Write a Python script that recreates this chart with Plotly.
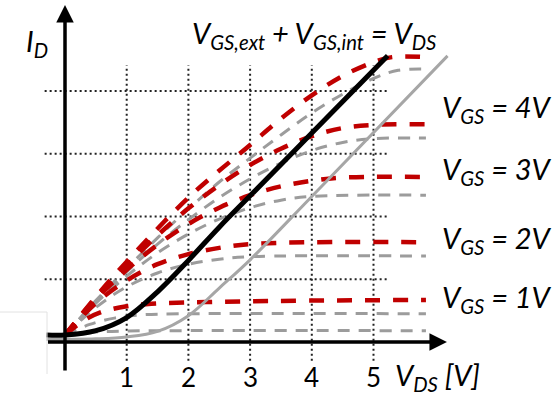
import plotly.graph_objects as go

# ---------------- data ----------------
tick_values = [1, 2, 3, 4, 5]
tick_labels = ["1", "2", "3", "4", "5"]
grid_levels = [1, 2, 3, 4]

# black boundary curve  V_GS,ext + V_GS,int = V_DS
vds_black = [-0.3, 0.0, 0.5, 1.0, 1.5, 2.0, 2.5, 3.0, 4.0, 5.23]
id_black = [0.11, 0.11, 0.18, 0.39, 0.80, 1.30, 1.83, 2.33, 3.33, 4.56]

# grey solid boundary curve
vds_grey = [-0.3, 0.5, 1.0, 1.5, 2.0, 2.5, 3.0, 4.0, 6.2]
id_grey = [0.04, 0.05, 0.08, 0.17, 0.42, 0.86, 1.31, 2.32, 4.56]

# red dashed output curves (V_GS = 1..5 V)
red_vds = [
    [0, 0.3, 0.6, 1.0, 1.4, 2.5, 4.0, 5.85],
    [0, 0.5, 1.0, 1.5, 2.0, 2.5, 3.0, 4.0, 5.85],
    [0, 0.5, 1.0, 1.5, 2.0, 2.5, 3.0, 3.5, 4.0, 4.5, 5.85],
    [0, 0.5, 1.0, 1.5, 2.0, 2.5, 3.0, 3.5, 4.0, 4.5, 5.0, 5.85],
    [0, 0.5, 1.0, 2.0, 3.0, 3.5, 4.0, 4.5, 5.0, 5.3, 5.85],
]
red_id = [
    [0.11, 0.34, 0.48, 0.57, 0.61, 0.64, 0.66, 0.67],
    [0.11, 0.62, 0.98, 1.24, 1.40, 1.50, 1.56, 1.59, 1.59],
    [0.11, 0.68, 1.15, 1.55, 1.88, 2.14, 2.34, 2.48, 2.57, 2.62, 2.63],
    [0.11, 0.70, 1.22, 1.70, 2.13, 2.50, 2.82, 3.08, 3.28, 3.41, 3.46, 3.47],
    [0.11, 0.72, 1.28, 2.30, 3.14, 3.56, 3.93, 4.24, 4.46, 4.54, 4.54],
]

# grey dashed output curves
grey_vds = [
    [0, 0.5, 1.0, 5.85],
    [0, 0.4, 0.8, 1.2, 2.0, 5.85],
    [0, 0.5, 1.0, 1.5, 2.0, 2.5, 3.0, 5.85],
    [0, 0.5, 1.0, 1.5, 2.0, 2.5, 3.0, 3.5, 4.0, 5.85],
    [0, 0.5, 1.0, 1.5, 2.0, 2.5, 3.0, 3.5, 4.0, 4.5, 5.0, 5.85],
    [0, 0.5, 1.0, 1.5, 2.0, 2.5, 3.0, 3.5, 4.0, 4.5, 5.0, 5.4, 5.85],
]
grey_id = [
    [0.11, 0.16, 0.175, 0.18],
    [0.11, 0.28, 0.38, 0.43, 0.45, 0.45],
    [0.11, 0.55, 0.88, 1.10, 1.24, 1.32, 1.36, 1.37],
    [0.11, 0.62, 1.05, 1.42, 1.72, 1.96, 2.14, 2.26, 2.32, 2.34],
    [0.11, 0.64, 1.12, 1.56, 1.95, 2.30, 2.60, 2.85, 3.05, 3.18, 3.24, 3.25],
    [0.11, 0.66, 1.17, 1.66, 2.12, 2.55, 2.93, 3.30, 3.65, 3.95, 4.20, 4.33, 4.35],
]

vgs_labels = ["V<sub>GS</sub> = 4V", "V<sub>GS</sub> = 3V",
              "V<sub>GS</sub> = 2V", "V<sub>GS</sub> = 1V"]
vgs_label_y = [3.72, 2.74, 1.63, 0.70]

RED = "#C00000"
GREYD = "#9C9C9C"
GREYL = "#A6A6A6"
FONT = "Lato"

fig = go.Figure()

for xs, ys in zip(grey_vds, grey_id):
    fig.add_trace(go.Scatter(x=xs, y=ys, mode="lines",
                             line=dict(color=GREYD, width=3, dash="12px,9px", shape="spline"),
                             hoverinfo="skip", showlegend=False))
for xs, ys in zip(red_vds, red_id):
    fig.add_trace(go.Scatter(x=xs, y=ys, mode="lines",
                             line=dict(color=RED, width=4.5, dash="15px,13px", shape="spline"),
                             hoverinfo="skip", showlegend=False))
fig.add_trace(go.Scatter(x=vds_grey, y=id_grey, mode="lines",
                         line=dict(color=GREYL, width=3, shape="spline"),
                         hoverinfo="skip", showlegend=False))
fig.add_trace(go.Scatter(x=vds_black, y=id_black, mode="lines",
                         line=dict(color="black", width=5, shape="spline"),
                         hoverinfo="skip", showlegend=False))

shapes = []
# dotted grid
for g in grid_levels:
    shapes.append(dict(type="line", xref="x", yref="y", x0=-0.33, x1=5.25, y0=g, y1=g,
                       line=dict(color="#222222", width=2, dash="2px,3px"), layer="below"))
for t in tick_values:
    shapes.append(dict(type="line", xref="x", yref="y", x0=t, x1=t, y0=-0.3, y1=4.41,
                       line=dict(color="#222222", width=2, dash="2px,3px"), layer="below"))
# faint frame artefact at left
shapes.append(dict(type="line", xref="paper", yref="paper", x0=0, x1=47/560,
                   y0=1-312/396, y1=1-312/396, line=dict(color="#E2E2E2", width=1)))
shapes.append(dict(type="line", xref="paper", yref="paper", x0=47/560, x1=47/560,
                   y0=1-312/396, y1=1-374/396, line=dict(color="#E2E2E2", width=1)))

annotations = []
# axes with arrows
annotations.append(dict(x=6.19, y=0, ax=-0.3, ay=0, xref="x", yref="y", axref="x", ayref="y",
                        text="", showarrow=True, arrowhead=2, arrowsize=1, arrowwidth=3.5,
                        arrowcolor="black"))
annotations.append(dict(x=0, y=5.37, ax=0, ay=-0.48, xref="x", yref="y", axref="x", ayref="y",
                        text="", showarrow=True, arrowhead=2, arrowsize=1, arrowwidth=3.5,
                        arrowcolor="black"))
# tick labels
for t, lab in zip(tick_values, tick_labels):
    annotations.append(dict(x=t, y=-0.55, xref="x", yref="y", text=lab, showarrow=False,
                            font=dict(family=FONT, size=26, color="black"),
                            xanchor="center", yanchor="middle"))
# V_GS labels
for lab, yv in zip(vgs_labels, vgs_label_y):
    annotations.append(dict(x=440/560, y=yv, xref="paper", yref="y", text="<i>" + lab + "</i>",
                            showarrow=False, font=dict(family=FONT, size=29, color="black"),
                            xanchor="left", yanchor="middle"))
annotations.append(dict(x=190/560, y=1-34/396, xref="paper", yref="paper",
                        text="<i>V<sub>GS,ext</sub> + V<sub>GS,int</sub> = V<sub>DS</sub></i>",
                        showarrow=False, font=dict(family=FONT, size=29, color="black"),
                        xanchor="left", yanchor="middle"))
annotations.append(dict(x=393/560, y=1-376/396, xref="paper", yref="paper",
                        text="<i>V<sub>DS</sub> [V]</i>",
                        showarrow=False, font=dict(family=FONT, size=29, color="black"),
                        xanchor="left", yanchor="middle"))
annotations.append(dict(x=24/560, y=1-42/396, xref="paper", yref="paper",
                        text="<i>I<sub>D</sub></i>",
                        showarrow=False, font=dict(family=FONT, size=29, color="black"),
                        xanchor="left", yanchor="middle"))

fig.update_layout(
    width=560, height=396,
    margin=dict(l=0, r=0, t=0, b=0),
    paper_bgcolor="white", plot_bgcolor="white",
    xaxis=dict(range=[-1.0535, 8.0227], visible=False, fixedrange=True),
    yaxis=dict(range=[-0.8606, 5.4502], visible=False, fixedrange=True),
    shapes=shapes, annotations=annotations,
    showlegend=False,
)

fig.write_html("out.html")
